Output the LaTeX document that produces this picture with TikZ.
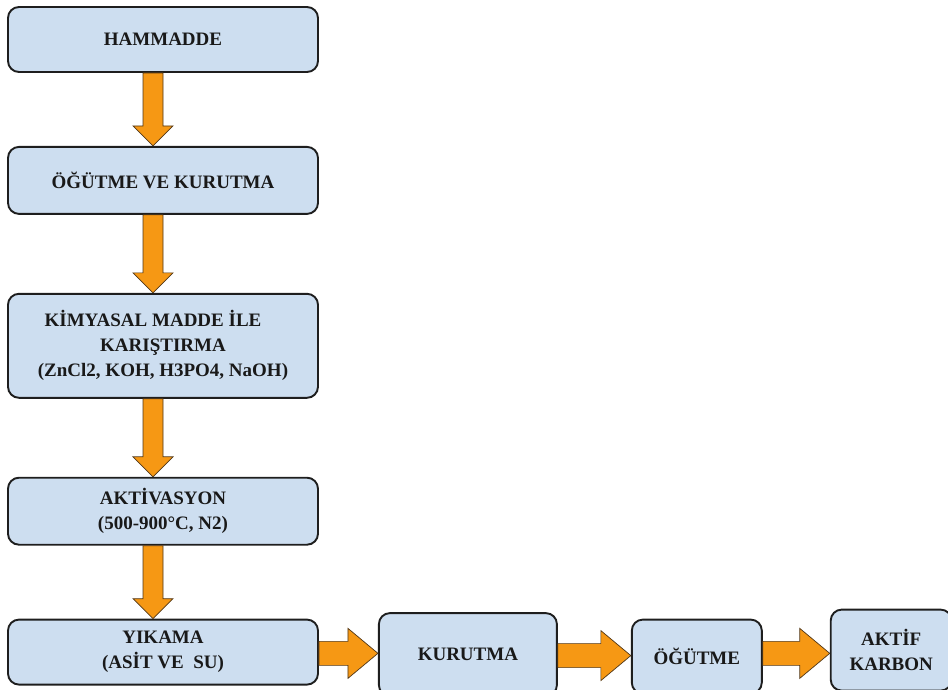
\documentclass[tikz,border=0pt]{standalone}
\usepackage{fontspec}
\setmainfont{Liberation Serif}
\usetikzlibrary{positioning,calc}
\definecolor{boxblue}{RGB}{205,222,240}
\definecolor{boxline}{RGB}{30,30,30}
\definecolor{floworange}{RGB}{246,152,20}
\definecolor{flowline}{RGB}{80,55,25}
\tikzset{
  stepbox/.style={rectangle,rounded corners=11pt,draw=boxline,line width=1.9pt,fill=boxblue,
    align=center,text=black!90,inner sep=2pt,font=\fontsize{19}{25}\selectfont\bfseries},
  flowarrow/.style={draw=flowline,fill=floworange,line width=0.7pt,line join=miter}
}
% fat arrows between boxes
\newcommand{\downflow}[2]{%
  \draw[flowarrow] let \p1=(#1.south), \p2=(#2.north) in
    (\x1-20pt,\y1) -- (\x1,\y1) -- (\x1,\y2+20pt) -- (\x1+10pt,\y2+20pt)
    -- (\x1-10pt,\y2) -- (\x1-30pt,\y2+20pt) -- (\x1-20pt,\y2+20pt) -- cycle;}
\newcommand{\rightflow}[2]{%
  \draw[flowarrow] let \p1=(#1.east), \p2=(#2.west), \p3=($(#1.east)!0.5!(#2.west)$) in
    (\x1,\y3+12pt) -- (\x2-30pt,\y3+12pt) -- (\x2-30pt,\y3+25pt) -- (\x2,\y3)
    -- (\x2-30pt,\y3-25pt) -- (\x2-30pt,\y3-12pt) -- (\x1,\y3-12pt) -- cycle;}

\begin{document}
\begin{tikzpicture}[x=1pt,y=-1pt]
  \useasboundingbox (0,0) rectangle (948,689);
  % main column
  \node[stepbox, minimum width=310pt, minimum height=65pt] (ham) at (163,39.5) {HAMMADDE};
  \node[stepbox, minimum width=310pt, minimum height=67pt, below=73pt of ham] (ogut) {ÖĞÜTME VE KURUTMA};
  \node[stepbox, minimum width=310pt, minimum height=104pt, below=78pt of ogut] (kim)
    {KİMYASAL MADDE İLE\hspace*{20pt}\\KARIŞTIRMA\\(ZnCl2, KOH, H3PO4, NaOH)};
  \node[stepbox, minimum width=310pt, minimum height=67pt, below=78pt of kim] (akt) {AKTİVASYON\\(500-900°C, N2)};
  \node[stepbox, minimum width=310pt, minimum height=65pt, below=73pt of akt] (yik) {YIKAMA\\(ASİT VE\ \ SU)};
  % bottom row
  \node[stepbox, minimum width=178pt, minimum height=83pt, right=59pt of yik, yshift=-2.5pt] (kur) {KURUTMA};
  \node[stepbox, minimum width=130pt, minimum height=74pt, right=73pt of kur, yshift=-2pt] (ogut2) {ÖĞÜTME};
  \node[stepbox, minimum width=121pt, minimum height=81pt, right=67pt of ogut2, yshift=6.5pt] (aktif) {AKTİF\\KARBON};
  % arrows
  \downflow{ham}{ogut}
  \downflow{ogut}{kim}
  \downflow{kim}{akt}
  \downflow{akt}{yik}
  \rightflow{yik}{kur}
  \rightflow{kur}{ogut2}
  \rightflow{ogut2}{aktif}
\end{tikzpicture}
\end{document}
